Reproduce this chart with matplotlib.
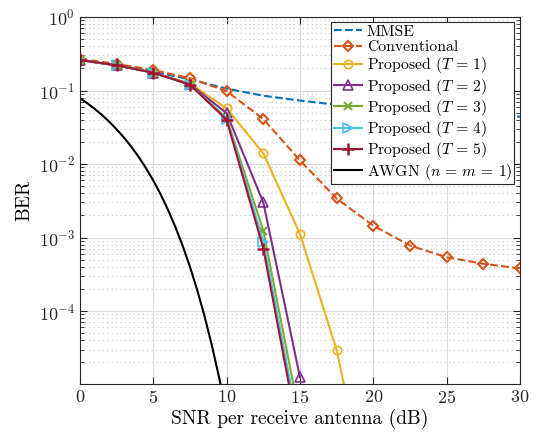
import numpy as np
import matplotlib
matplotlib.use("Agg")
import matplotlib.pyplot as plt
from matplotlib.ticker import LogLocator, NullFormatter

plt.rcParams["font.family"] = "serif"
plt.rcParams["font.serif"] = ["cmr10"]
plt.rcParams["mathtext.fontset"] = "cm"
plt.rcParams["axes.formatter.use_mathtext"] = True

snr = [0, 2.5, 5, 7.5, 10, 12.5, 15, 17.5, 20, 22.5, 25, 27.5, 30]
ber_mmse = [0.26, 0.22, 0.18, 0.142, 0.106, 0.085, 0.073, 0.064, 0.058, 0.053, 0.049, 0.046, 0.044]
ber_conv = [0.27, 0.23, 0.19, 0.147, 0.098, 0.041, 0.0112, 0.0034, 0.00145,
            0.00078, 0.00054, 0.00044, 0.00038]

snr_t1 = [0, 2.5, 5, 7.5, 10, 12.5, 15, 17.5, 20]
ber_t1 = [0.26, 0.22, 0.175, 0.125, 0.057, 0.014, 0.00112, 2.95e-5, 1.3e-7]
snr_t2 = [0, 2.5, 5, 7.5, 10, 12.5, 15]
ber_t2 = [0.26, 0.22, 0.175, 0.122, 0.049, 0.0030, 1.26e-5]
snr_t345 = [0, 2.5, 5, 7.5, 10, 12.5, 15]
ber_t3 = [0.26, 0.22, 0.175, 0.12, 0.042, 0.00124, 3.5e-6]
ber_t4 = [0.26, 0.22, 0.175, 0.12, 0.041, 0.00088, 2.2e-6]
ber_t5 = [0.26, 0.22, 0.175, 0.12, 0.040, 0.00071, 1.6e-6]

snr_awgn = [0, 0.5, 1, 1.5, 2, 2.5, 3, 3.5, 4, 4.5, 5, 5.5, 6, 6.5, 7, 7.5,
            8, 8.5, 9, 9.5, 10]
ber_awgn = [0.0786, 0.0671, 0.0563, 0.0464, 0.0375, 0.0296, 0.0229, 0.0172,
            0.0125, 0.0088, 0.00595, 0.00386, 0.00239, 0.00140, 7.73e-4,
            3.99e-4, 1.91e-4, 8.40e-5, 3.36e-5, 1.21e-5, 3.87e-6]

fig = plt.figure(figsize=(5.38, 4.36), dpi=100)
ax = fig.add_axes([0.1487, 0.1193, 0.8178, 0.8417])

lw = 1.5
ax.plot(snr, ber_mmse, "--", color="#0072BD", lw=lw, label="MMSE")
ax.plot(snr, ber_conv, "--D", color="#D95319", lw=lw, ms=5.5, mfc="none",
        mew=1.5, label="Conventional")
ax.plot(snr_t1, ber_t1, "-o", color="#EDB120", lw=lw, ms=6, mfc="none",
        mew=1.2, label=r"Proposed ($T\,=\,1$)")
ax.plot(snr_t2, ber_t2, "-^", color="#7E2F8E", lw=lw, ms=7, mfc="none",
        mew=1.2, label=r"Proposed ($T\,=\,2$)")
ax.plot(snr_t345, ber_t3, "-x", color="#77AC30", lw=lw, ms=6, mew=1.5,
        label=r"Proposed ($T\,=\,3$)")
ax.plot(snr_t345, ber_t4, "->", color="#4DBEEE", lw=lw, ms=7, mfc="none",
        mew=1.2, label=r"Proposed ($T\,=\,4$)")
ax.plot(snr_t345, ber_t5, "-+", color="#A2142F", lw=lw, ms=8, mew=1.8,
        label=r"Proposed ($T\,=\,5$)")
ax.plot(snr_awgn, ber_awgn, "-", color="black", lw=lw,
        label=r"AWGN ($n\,=\,m\,=\,1$)")

ax.set_yscale("log")
ax.set_xlim(0, 30)
ax.set_ylim(1.02e-5, 1)
ax.set_xticks([0, 5, 10, 15, 20, 25, 30])
ax.set_yticks([1e-4, 1e-3, 1e-2, 1e-1, 1e0])
ax.yaxis.set_minor_locator(LogLocator(base=10, subs=np.arange(2, 10), numticks=20))
ax.yaxis.set_minor_formatter(NullFormatter())

ax.grid(True, which="major", color="#dcdcdc", lw=0.8)
ax.grid(True, which="minor", axis="y", color="#c8c8c8", ls=(0, (1, 3)), lw=0.8)
ax.set_axisbelow(True)

ax.tick_params(which="both", direction="in", top=True, right=True,
               labelsize=13, colors="#262626")
ax.tick_params(which="major", length=5)
ax.tick_params(which="minor", length=3)
for s in ax.spines.values():
    s.set_color("#262626")
    s.set_linewidth(0.8)

ax.set_xlabel("SNR per receive antenna (dB)", fontsize=14, labelpad=2)
ax.set_ylabel("BER", fontsize=14, labelpad=4)

leg = ax.legend(loc="upper right", fontsize=11.3, fancybox=False,
                framealpha=1, edgecolor="#262626", borderpad=0.15,
                labelspacing=0.08, handlelength=1.8, handletextpad=0.3,
                borderaxespad=0.35)
leg.get_frame().set_linewidth(0.8)

fig.savefig("out.png", dpi=100)
